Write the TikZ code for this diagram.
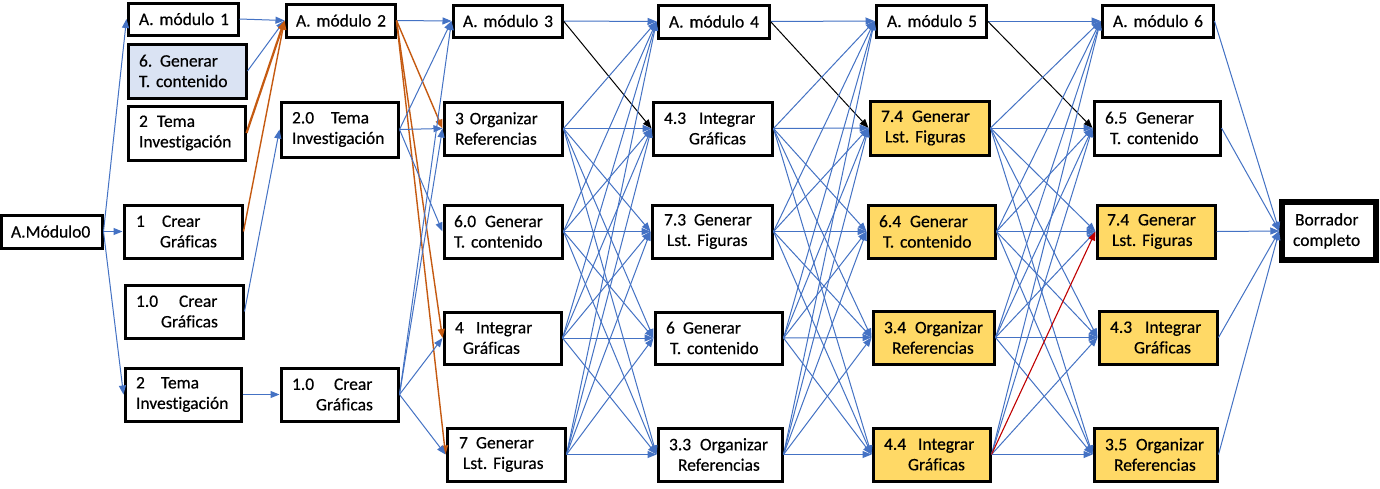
\documentclass[tikz,border=0pt]{standalone}
\usepackage{fontspec}
\setmainfont{Carlito}[FakeBold=0.4, Ligatures={NoCommon}]
\usetikzlibrary{arrows.meta}
\setlength{\parindent}{0pt}
\frenchspacing
\definecolor{eblue}{HTML}{4472C4}
\definecolor{eorange}{HTML}{C55A11}
\definecolor{ered}{HTML}{C00000}
\definecolor{fyellow}{HTML}{FFD966}
\definecolor{flblue}{HTML}{DAE3F3}
\newcommand\Tx[2]{\hspace*{#1pt}#2}
\newcommand\Tw[4]{\hspace*{#1pt}\makebox[#2pt][l]{#3}#4}
\begin{document}
\begin{tikzpicture}[x=1pt,y=-1pt,
  font=\fontsize{17.5}{20.5}\selectfont\frenchspacing,
  bx/.style 2 args={draw=black, line width=3pt, fill=white, inner sep=0pt,
    minimum width=#1pt, minimum height=#2pt, text width=#1pt, align=left},
  ybx/.style 2 args={bx={#1}{#2}, fill=fyellow},
  lbx/.style 2 args={bx={#1}{#2}, fill=flblue},
  ar/.style={-{Triangle[length=9pt,width=7pt]}, line width=1pt},
  bl/.style={ar, color=eblue},
  og/.style={ar, color=eorange, line width=1.4pt},
  bk/.style={ar, color=black},
  rd/.style={ar, color=ered, line width=1.1pt}]
\path[use as bounding box, fill=white] (0,0) rectangle (1380,488);

% column 0
\node[bx={100.5}{33}] (m0) at (51.75,231.5) {\Tx{9.5}{A.Módulo0}};
% column 1
\node[bx={110}{32}] (m1) at (183,19) {\Tx{11}{A. módulo 1}};
\node[lbx={118}{54}] (g6) at (187,71) {\Tw{11}{21}{6.}{Generar}\\\Tx{11}{T. contenido}};
\node[bx={117}{54}] (t2a) at (186.5,133) {\Tw{11}{18}{2}{Tema}\\\Tx{11}{Investigación}};
\node[bx={118}{53}] (c1) at (183,231.5) {\Tw{12}{26}{1}{Crear}\\\Tx{36}{Gráficas}};
\node[bx={118}{53}] (c10a) at (184,311.5) {\Tw{11}{43}{1.0}{Crear}\\\Tx{36}{Gráficas}};
\node[bx={116}{53}] (t2b) at (183,394.5) {\Tw{11}{25}{2}{Tema}\\\Tx{11}{Investigación}};
% column 2
\node[bx={109}{33}] (m2) at (340.5,20.5) {\Tx{10}{A. módulo 2}};
\node[bx={117}{55}] (t20) at (339.5,129.5) {\Tw{11}{39}{2.0}{Tema}\\\Tx{11}{Investigación}};
\node[bx={117}{53}] (c10b) at (339.5,394.5) {\Tw{11}{42}{1.0}{Crear}\\\Tx{35}{Gráficas}};
% column 3
\node[bx={109}{32}] (m3) at (507.5,21) {\Tx{10}{A. módulo 3}};
\node[bx={118}{53}] (o3) at (503,128.5) {\Tx{11}{3 Organizar}\\\Tx{11}{Referencias}};
\node[bx={118}{53}] (g60) at (503,231.5) {\Tw{10}{31}{6.0}{Generar}\\\Tx{10}{T. contenido}};
\node[bx={117}{52}] (i4) at (502.5,338) {\Tw{11}{21}{4}{Integrar}\\\Tx{19}{Gráficas}};
\node[bx={118}{53}] (g7) at (506,454.5) {\Tw{12}{17}{7}{Generar}\\\Tx{16}{Lst. Figuras}};
% column 4
\node[bx={111}{33}] (m4) at (713.5,21.5) {\Tx{11}{A. módulo 4}};
\node[bx={119}{53}] (i43) at (712.5,128.5) {\Tw{11}{35}{4.3}{Integrar}\\\Tx{36}{Gráficas}};
\node[bx={120}{53}] (g73) at (712,231.5) {\Tw{12}{30}{7.3}{Generar}\\\Tx{15}{Lst. Figuras}};
\node[bx={127}{52}] (g6b) at (718.5,338) {\Tw{11}{17}{6}{Generar}\\\Tx{15}{T. contenido}};
\node[bx={124}{53}] (o33) at (720,454.5) {\Tw{11}{31}{3.3}{Organizar}\\\Tx{20}{Referencias}};
% column 5
\node[bx={110}{32}] (m5) at (931,21) {\Tx{11}{A. módulo 5}};
\node[ybx={119}{54}] (g74a) at (929.5,128) {\Tw{11}{31}{7.4}{Generar}\\\Tx{15}{Lst. Figuras}};
\node[ybx={127}{53}] (g64) at (931.5,231.5) {\Tw{11}{31}{6.4}{Generar}\\\Tx{15}{T. contenido}};
\node[ybx={121}{53}] (o34) at (933.5,337.5) {\Tw{11}{31}{3.4}{Organizar}\\\Tx{19}{Referencias}};
\node[ybx={117}{53}] (i44) at (931.5,454.5) {\Tw{11}{34}{4.4}{Integrar}\\\Tx{35}{Gráficas}};
% column 6
\node[bx={111}{32}] (m6) at (1157.5,21) {\Tx{11}{A. módulo 6}};
\node[bx={126}{54}] (g65) at (1157,128) {\Tw{11}{31}{6.5}{Generar}\\\Tx{16}{T. contenido}};
\node[ybx={118}{53}] (g74b) at (1156,231.5) {\Tw{10}{31}{7.4}{Generar}\\\Tx{15}{Lst. Figuras}};
\node[ybx={118}{53}] (i43b) at (1158,337.5) {\Tw{11}{35}{4.3}{Integrar}\\\Tx{35}{Gráficas}};
\node[ybx={123}{53}] (o35) at (1155.5,454.5) {\Tw{11}{31}{3.5}{Organizar}\\\Tx{20}{Referencias}};
% final
\node[bx={94}{58}, line width=5.5pt] (bor) at (1329,231) {\Tx{13}{Borrador}\\\Tx{11}{completo}};

% connectors column 0 -> 1
\draw[bl] (m0.east) -- (m1.west);
\draw[bl] (m0.east) -- (c1.west);
\draw[bl] (m0.east) -- (t2b.west);
% column 1 -> 2
\draw[bl] (m1.east) -- (m2.west);
\draw[bl] (g6.east) -- (m2.west);
\draw[og, line width=2.2pt] (t2a.east) -- (m2.west);
\draw[og] (c1.east) -- (m2.west);
\draw[bl] (c10a.east) -- (t20.west);
\draw[bl] (t2b.east) -- (c10b.west);
% column 2 -> 3
\draw[bl] (m2.east) -- (m3.west);
\draw[og] (m2.east) -- (o3.west);
\draw[og] (m2.east) -- (i4.west);
\draw[og] (m2.east) -- (g7.west);
\foreach \t in {m3,o3,g60} \draw[bl] (t20.east) -- (\t.west);
\foreach \t in {m3,o3,i4,g7} \draw[bl] (c10b.east) -- (\t.west);
% column 3 -> 4
\draw[bl] (m3.east) -- (m4.west);
\draw[bk] (m3.east) -- (i43.west);
\foreach \s in {o3,g60,i4,g7}{\foreach \t in {m4,i43,g73,g6b,o33}{\draw[bl] (\s.east) -- (\t.west);}}
% column 4 -> 5
\draw[bl] (m4.east) -- (m5.west);
\draw[bk] (m4.east) -- (g74a.west);
\foreach \s in {i43,g73,g6b,o33}{\foreach \t in {m5,g74a,g64,o34,i44}{\draw[bl] (\s.east) -- (\t.west);}}
% column 5 -> 6
\draw[bl] (m5.east) -- (m6.west);
\draw[bk] (m5.east) -- (g65.west);
\foreach \s in {g74a,g64,o34}{\foreach \t in {m6,g65,g74b,i43b,o35}{\draw[bl] (\s.east) -- (\t.west);}}
\foreach \t in {m6,g65,i43b,o35} \draw[bl] (i44.east) -- (\t.west);
\draw[rd] (i44.east) -- (g74b.west);
% column 6 -> final
\foreach \s in {m6,g65,g74b,i43b,o35} \draw[bl] (\s.east) -- (bor.west);
\end{tikzpicture}
\end{document}
